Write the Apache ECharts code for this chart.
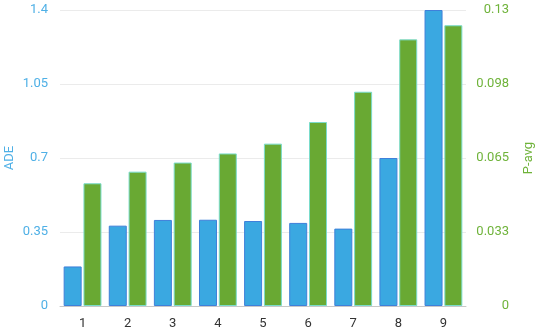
<!DOCTYPE html>
<html>
<head>
<meta charset="utf-8">
<script src="https://cdn.jsdelivr.net/npm/echarts@6/dist/echarts.min.js"></script>
<style>
  html, body { margin: 0; padding: 0; background: #fff; }
  #main { width: 540px; height: 336px; }
</style>
</head>
<body>
<div id="main"></div>
<script>
// categories and series values
var categories = ['1', '2', '3', '4', '5', '6', '7', '8', '9'];
var adeValues = [0.187, 0.38, 0.407, 0.408, 0.402, 0.393, 0.366, 0.70, 1.40];
var pavgValues = [0.0539, 0.0590, 0.0630, 0.0670, 0.0713, 0.0808, 0.0941, 0.1171, 0.1233];

var fontFamily = '"Helvetica Neue", Roboto, "Noto Sans", sans-serif';

var chart = echarts.init(document.getElementById('main'));

var option = {
    animation: false,
    grid: { left: 60, right: 74, top: 10, bottom: 30, containLabel: false, outerBoundsMode: 'none' },
    xAxis: {
        type: 'category',
        data: categories,
        axisTick: { show: false },
        axisLine: { lineStyle: { color: '#c8c8c8' } },
        axisLabel: { color: '#333', fontSize: 13, margin: 11, fontFamily: fontFamily }
    },
    yAxis: [
        {
            type: 'value',
            name: 'ADE',
            nameLocation: 'middle',
            nameGap: 44,
            nameMoveOverlap: false,
            nameTextStyle: { color: '#4fb0e6', fontSize: 13, fontFamily: fontFamily },
            min: 0,
            max: 1.4,
            interval: 0.35,
            axisLine: { show: false },
            axisTick: { show: false },
            axisLabel: { color: '#4fb0e6', fontSize: 13, margin: 12, fontFamily: fontFamily },
            splitLine: { lineStyle: { color: '#ebebeb' } }
        },
        {
            type: 'value',
            name: 'P-avg',
            nameLocation: 'middle',
            nameGap: 56,
            nameMoveOverlap: false,
            nameTextStyle: { color: '#6fb33a', fontSize: 13, fontFamily: fontFamily },
            min: 0,
            max: 0.13,
            interval: 0.0325,
            axisLine: { show: false },
            axisTick: { show: false },
            axisLabel: {
                color: '#6fb33a',
                fontSize: 13,
                margin: 43,
                align: 'right',
                fontFamily: fontFamily,
                formatter: function (v) {
                    return String(Math.round(v * 1000 + 1e-6) / 1000);
                }
            },
            splitLine: { show: false }
        }
    ],
    series: [
        {
            name: 'ADE',
            type: 'bar',
            yAxisIndex: 0,
            data: adeValues,
            barWidth: 18,
            barGap: '10%',
            itemStyle: { color: '#3aa8e1', borderColor: '#3f80da', borderWidth: 1 }
        },
        {
            name: 'P-avg',
            type: 'bar',
            yAxisIndex: 1,
            data: pavgValues,
            barWidth: 18,
            itemStyle: { color: '#69a933', borderColor: '#7adccb', borderWidth: 1 }
        }
    ]
};

chart.setOption(option);
</script>
</body>
</html>
